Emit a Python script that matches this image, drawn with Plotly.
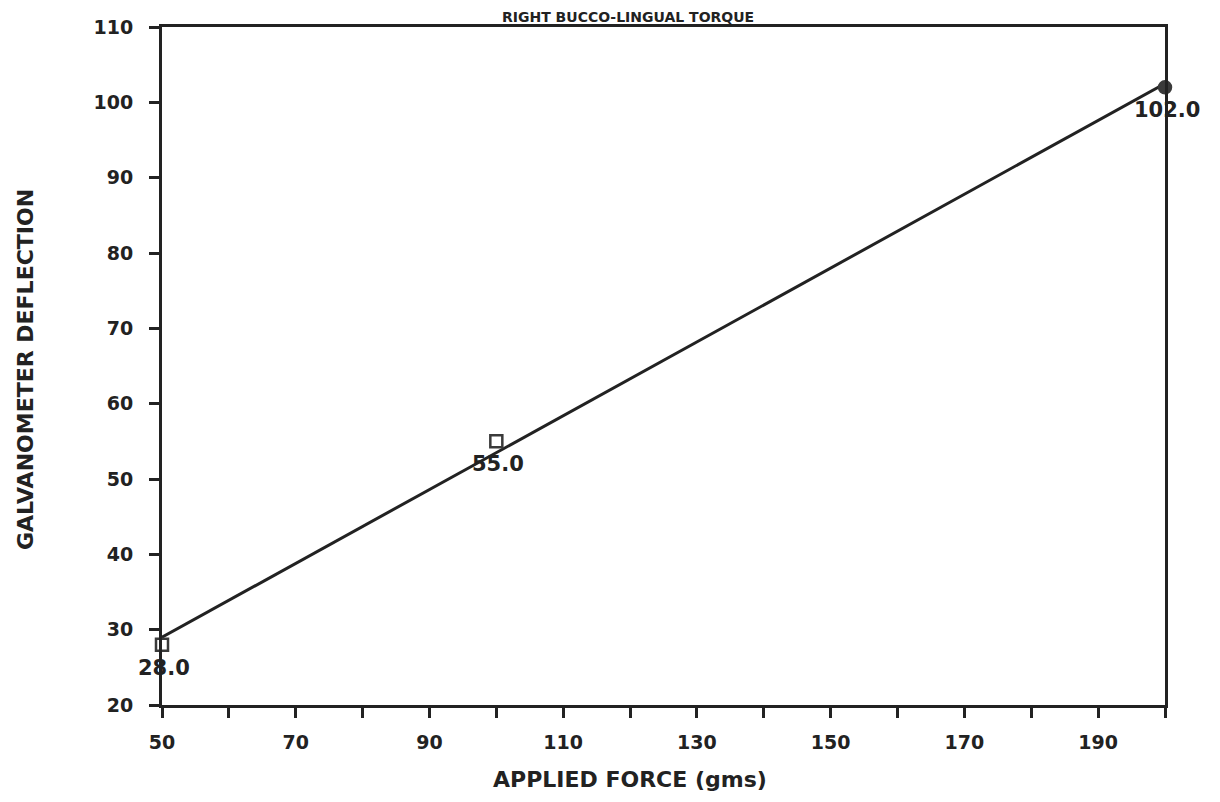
import numpy as np
import plotly.graph_objects as go

# Data
force = [50, 100, 200]            # APPLIED FORCE (gms)
deflection = [28.0, 55.0, 102.0]  # GALVANOMETER DEFLECTION
point_labels = ["28.0", "55.0", "102.0"]
marker_symbols = ["square-open", "square-open", "circle"]

x_tickvals = list(range(50, 201, 10))
x_ticktext = [str(v) if (v - 50) % 20 == 0 and v < 200 else "" for v in x_tickvals]
y_tickvals = list(range(20, 111, 10))
y_ticktext = [str(v) for v in y_tickvals]

title_text = "RIGHT BUCCO-LINGUAL TORQUE"
x_title = "APPLIED FORCE (gms)"
y_title = "GALVANOMETER DEFLECTION"

INK = "#222222"
FONT = "DejaVu Sans"

# least-squares line through the data
slope, intercept = np.polyfit(force, deflection, 1)
fit_x = [min(force), max(force)]
fit_y = [slope * v + intercept for v in fit_x]

fig = go.Figure()
fig.add_trace(go.Scatter(
    x=fit_x, y=fit_y, mode="lines",
    line=dict(color=INK, width=3), hoverinfo="skip", showlegend=False,
))
fig.add_trace(go.Scatter(
    x=force, y=deflection, mode="markers",
    marker=dict(symbol=marker_symbols, size=12, color="#3a3a3a",
                line=dict(color="#3a3a3a", width=2.5)),
    showlegend=False, cliponaxis=False,
))
for xv, yv, lab in zip(force, deflection, point_labels):
    fig.add_annotation(x=xv, y=yv, text=lab, showarrow=False,
                       xshift=2, yshift=-23,
                       font=dict(family=FONT, size=21, color=INK, weight="bold"))

# figure sits inside the page body's 8px margin
OFF = 8
W, H = 1204, 786
L, T = 162 - OFF, 27 - OFF
R = W - (1165 - OFF)
B = H - (705 - OFF)
plot_h = H - T - B
plot_w = W - L - R


def px_to_paper_x(px):
    return (px - OFF - L) / plot_w


def px_to_paper_y(py):
    return (H - B - (py - OFF)) / plot_h


fig.add_annotation(text=title_text, xref="paper", yref="paper",
                   x=px_to_paper_x(628), y=px_to_paper_y(17),
                   xanchor="center", yanchor="middle", showarrow=False,
                   font=dict(family=FONT, size=14, color=INK, weight="bold"))
fig.add_annotation(text=x_title, xref="paper", yref="paper",
                   x=px_to_paper_x(630), y=px_to_paper_y(779),
                   xanchor="center", yanchor="middle", showarrow=False,
                   font=dict(family=FONT, size=22, color=INK, weight="bold"))
fig.add_annotation(text=y_title, xref="paper", yref="paper",
                   x=px_to_paper_x(25), y=px_to_paper_y(370),
                   xanchor="center", yanchor="middle", showarrow=False,
                   textangle=-90,
                   font=dict(family=FONT, size=22, color=INK, weight="bold"))

axis_common = dict(
    showgrid=False, zeroline=False, showline=True, linecolor=INK, linewidth=3,
    mirror=True, ticks="outside", ticklen=10, tickwidth=3, tickcolor=INK,
    tickfont=dict(family=FONT, size=19, color=INK, weight="bold"),
    automargin=False,
)
fig.update_xaxes(range=[50, 200], tickvals=x_tickvals, ticktext=x_ticktext,
                 ticklabelstandoff=8, **axis_common)
fig.update_yaxes(range=[20, 110], tickvals=y_tickvals, ticktext=y_ticktext,
                 ticklabelstandoff=12, **axis_common)

fig.update_layout(
    width=W, height=H,
    margin=dict(l=L, r=R, t=T, b=B),
    paper_bgcolor="white", plot_bgcolor="white",
)

fig.write_html("out.html")
